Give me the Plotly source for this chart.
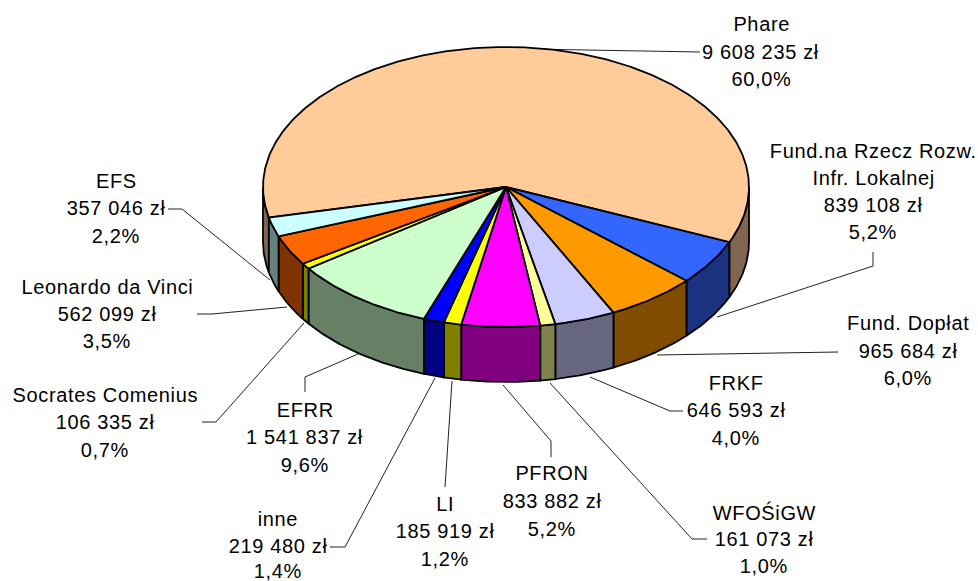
import math
import plotly.graph_objects as go

categories = ["Phare", "Fund.na Rzecz Rozw.|Infr. Lokalnej", "Fund. Dopłat", "FRKF", "WFOŚiGW", "PFRON",
              "LI", "inne", "EFRR", "Socrates Comenius", "Leonardo da Vinci", "EFS"]
values = [9608235, 839108, 965684, 646593, 161073, 833882, 185919, 219480, 1541837, 106335, 562099, 357046]
percents = ["60,0%", "5,2%", "6,0%", "4,0%", "1,0%", "5,2%", "1,2%", "1,4%", "9,6%", "0,7%", "3,5%", "2,2%"]
top_colors = ["#FFCC99", "#3366FF", "#FF9900", "#CCCCFF", "#FFFF99", "#FF00FF",
              "#FFFF00", "#0000FF", "#CCFFCC", "#FFFF00", "#FF6600", "#CCFFFF"]
side_colors = ["#806650", "#1A3380", "#804D00", "#666680", "#80804D", "#800080",
               "#808000", "#000080", "#668066", "#808000", "#803300", "#668080"]

CX, CY, RX, RY, DEPTH = 506, 187, 243, 140, 55
START_DEG = -192.6
LINE_W = 1.8

label_cx = [761, 873, 908, 736, 764, 552, 445, 278, 305, 105, 107, 116]
label_y = [[24, 52, 79], [151, 178, 205, 232], [323, 351, 378], [383, 410, 438], [512, 539, 566], [473, 501, 529],
           [504, 531, 559], [519, 546, 571], [410, 437, 465], [395, 422, 450], [287, 314, 341], [181, 208, 236]]
leaders = [
    [(530, 49), (687, 52), (700, 52)],
    [(873, 252), (873, 266), (717, 317)],
    [(657, 355), (838, 352)],
    [(590, 377), (670, 411), (683, 411)],
    [(550, 383), (692, 539), (707, 539)],
    [(503, 385), (551, 441), (551, 457)],
    [(452, 381), (445, 487)],
    [(435, 378), (345, 547), (330, 547)],
    [(358, 354), (305, 377), (305, 392)],
    [(304, 323), (216, 422), (202, 422)],
    [(287, 307), (212, 314), (197, 314)],
    [(270, 280), (182, 209), (168, 209)],
]


def arc(a, b, dy=0):
    n = max(2, int(abs(b - a) * 2) + 1)
    pts = [a + (b - a) * i / (n - 1) for i in range(n)]
    return ([CX + RX * math.cos(math.radians(t)) for t in pts],
            [CY + dy + RY * math.sin(math.radians(t)) for t in pts])


fig = go.Figure()
total = sum(values)

# leader lines
for pts in leaders:
    fig.add_trace(go.Scatter(x=[p[0] for p in pts], y=[p[1] for p in pts], mode="lines",
                             line=dict(color="#222222", width=1), hoverinfo="skip", showlegend=False))

# side walls
angle = START_DEG
spans = []
for v in values:
    sweep = v / total * 360
    spans.append((angle, angle + sweep))
    angle += sweep
for (a, b), col in zip(spans, side_colors):
    for off in (0, 360):
        lo, hi = max(a + off, 0), min(b + off, 180)
        if hi > lo:
            x1, y1 = arc(lo, hi)
            x2, y2 = arc(hi, lo, DEPTH)
            fig.add_trace(go.Scatter(x=x1 + x2 + x1[:1], y=y1 + y2 + y1[:1], mode="lines", fill="toself",
                                     fillcolor=col, line=dict(color="black", width=LINE_W),
                                     hoverinfo="skip", showlegend=False))

# top surface
for (a, b), col, name in zip(spans, top_colors, categories):
    x1, y1 = arc(a, b)
    fig.add_trace(go.Scatter(x=[CX] + x1 + [CX], y=[CY] + y1 + [CY], mode="lines", fill="toself",
                             fillcolor=col, line=dict(color="black", width=LINE_W),
                             name=name.replace("|", " "), showlegend=False))

# labels, one annotation per text row
for name, v, pct, cx, ys in zip(categories, values, percents, label_cx, label_y):
    rows = name.split("|") + [f"{v:,}".replace(",", " ") + " zł", pct]
    for row, y in zip(rows, ys):
        fig.add_annotation(x=cx, y=y, text=row, showarrow=False, xanchor="center", yanchor="middle",
                           font=dict(family="Liberation Sans, Arial, sans-serif", size=20, color="black"))

fig.update_layout(width=978, height=581, margin=dict(l=0, r=0, t=0, b=0),
                  paper_bgcolor="white", plot_bgcolor="white",
                  xaxis=dict(range=[0, 978], visible=False, fixedrange=True),
                  yaxis=dict(range=[581, 0], visible=False, fixedrange=True))
post = """
var s = document.createElement('style');
s.textContent = 'html,body{margin:0;padding:0;overflow:hidden} .annotation-text{letter-spacing:0.65px}';
document.head.appendChild(s);
"""
fig.write_html("out.html", config={"displayModeBar": False}, post_script=post)
